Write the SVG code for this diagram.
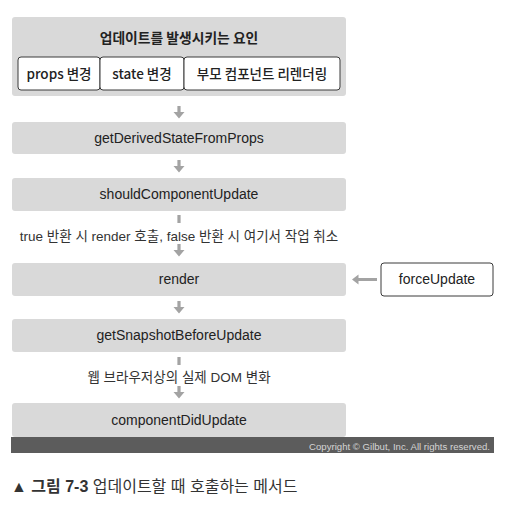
<svg xmlns="http://www.w3.org/2000/svg" xmlns:xlink="http://www.w3.org/1999/xlink" width="508" height="517" viewBox="0 0 508 517">
<style>
.stage{fill:#d9d9d9}
.sub{fill:#ffffff;stroke:#3a3a3a;stroke-width:1}
.t{font-family:"Liberation Sans","Noto Sans CJK KR",sans-serif;font-size:14px;fill:#222;text-anchor:middle}
.k{font-family:"Noto Sans CJK KR",sans-serif;font-size:13.5px;font-weight:500;fill:#222;text-anchor:middle}
.m{font-family:"Liberation Sans","Noto Sans CJK KR",sans-serif;font-size:13.5px;fill:#333;text-anchor:middle}
.b{font-weight:bold}
.arr{fill:#a3a3a3}
</style>
<defs>
<path id="down" d="M-1.6,0 H1.6 V6 H5.5 L0,12.5 L-5.5,6 H-1.6 Z"/>
</defs>
<rect width="508" height="517" fill="#ffffff"/>
<g id="causes">
<rect class="stage" x="12" y="17" width="334" height="79" rx="3"/>
<text class="k b" x="179" y="43" style="font-size:13.8px">업데이트를 발생시키는 요인</text>
<g id="props">
<rect class="sub" x="18" y="57" width="82" height="33" rx="3"/>
<text class="k" x="59" y="78.5">props 변경</text>
</g>
<g id="state">
<rect class="sub" x="100" y="57" width="84" height="33" rx="3"/>
<text class="k" x="142" y="78.5">state 변경</text>
</g>
<g id="parent">
<rect class="sub" x="184" y="57" width="156" height="33" rx="3"/>
<text class="k" x="262" y="78.5">부모 컴포넌트 리렌더링</text>
</g>
</g>
<g id="getDerivedStateFromProps">
<rect class="stage" x="12" y="122" width="334" height="32" rx="3"/>
<text class="t" x="179" y="143">getDerivedStateFromProps</text>
</g>
<g id="shouldComponentUpdate">
<rect class="stage" x="12" y="178" width="334" height="33" rx="3"/>
<text class="t" x="179" y="199">shouldComponentUpdate</text>
</g>
<g id="render">
<rect class="stage" x="12" y="263" width="334" height="33" rx="3"/>
<text class="t" x="179" y="284">render</text>
</g>
<g id="forceUpdate">
<rect class="sub" x="381" y="263" width="112" height="33" rx="3"/>
<text class="t" x="437" y="284">forceUpdate</text>
</g>
<g id="getSnapshotBeforeUpdate">
<rect class="stage" x="12" y="319" width="334" height="33" rx="3"/>
<text class="t" x="179" y="340">getSnapshotBeforeUpdate</text>
</g>
<g id="componentDidUpdate">
<rect class="stage" x="12" y="403" width="334" height="34" rx="3"/>
<text class="t" x="179" y="425">componentDidUpdate</text>
</g>
<g id="connectors" class="arr">
<use xlink:href="#down" href="#down" x="179" y="106"/>
<use xlink:href="#down" href="#down" x="179" y="160"/>
<rect x="177.4" y="215" width="3.2" height="8"/>
<text class="m" x="179" y="241">true 반환 시 render 호출, false 반환 시 여기서 작업 취소</text>
<use xlink:href="#down" href="#down" x="179" y="244"/>
<path d="M352,279.5 L358.5,274.5 V278 H377 V281 H358.5 V284.5 Z"/>
<use xlink:href="#down" href="#down" x="179" y="301"/>
<rect x="177.4" y="357" width="3.2" height="8"/>
<text class="m" x="179" y="382">웹 브라우저상의 실제 DOM 변화</text>
<use xlink:href="#down" href="#down" x="179" y="386"/>
</g>
<g id="copyright">
<rect x="11" y="437" width="483" height="16" fill="#5c5c5c"/>
<text x="490" y="449.5" style="font-family:'Liberation Sans',sans-serif;font-size:9.6px;fill:#d4d4d4;text-anchor:end">Copyright © Gilbut, Inc. All rights reserved.</text>
</g>
<g id="caption">
<text x="11" y="492" style="font-family:'Liberation Sans','Noto Sans CJK KR',sans-serif;font-size:16px;fill:#333"><tspan font-weight="bold">▲ 그림 7-3</tspan> 업데이트할 때 호출하는 메서드</text>
</g>
</svg>
